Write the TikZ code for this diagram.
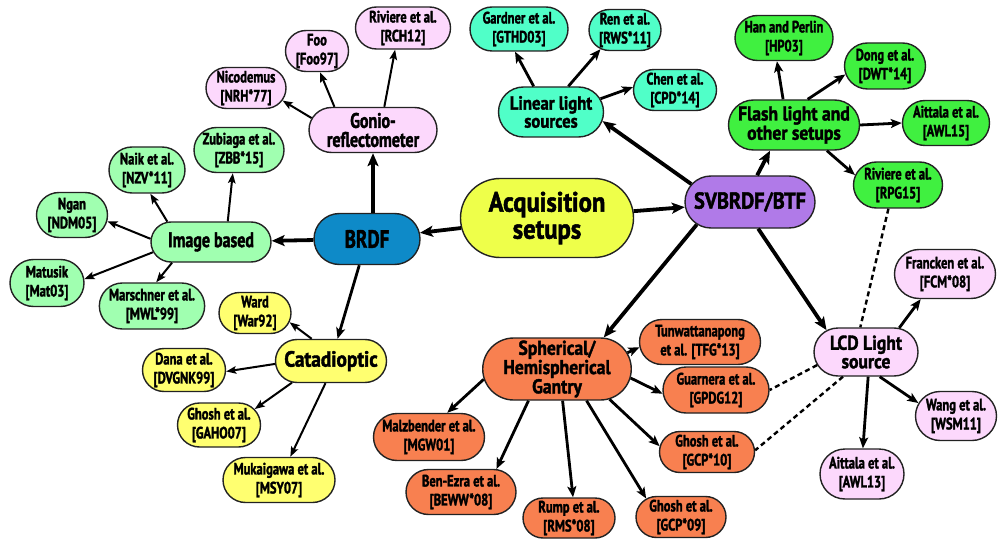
\documentclass[tikz,border=0pt]{standalone}
\usepackage{fontspec}
\setmainfont{PT Sans}[FakeStretch=0.76, BoldFeatures={FakeBold=1.8}]
\newfontfamily\widefont{PT Sans}[FakeStretch=0.88, BoldFeatures={FakeBold=1.8}]
\usetikzlibrary{shapes.misc,arrows.meta}

\definecolor{cAcq}{HTML}{EEFF4A}
\definecolor{cBlue}{HTML}{0E8AC8}
\definecolor{cPurple}{HTML}{B07AE8}
\definecolor{cPink}{HTML}{FCD8FC}
\definecolor{cLGreen}{HTML}{A0FFB0}
\definecolor{cYellow}{HTML}{FFFF70}
\definecolor{cAqua}{HTML}{50FFC8}
\definecolor{cGreen}{HTML}{40F040}
\definecolor{cOrange}{HTML}{F88050}
\definecolor{cEdge}{HTML}{222222}

\tikzset{
  box/.style={rounded rectangle, draw=cEdge, line width=1.4pt, align=center,
    inner xsep=2pt, inner ysep=0pt, text=black},
  sz/.style 2 args={minimum width=#1, minimum height=#2},
  leaf/.style={box, font=\bfseries\fontsize{16.5}{19}\selectfont},
  mid/.style={box, font=\widefont\bfseries\fontsize{20}{18}\selectfont},
  thick arrow/.style={line width=3.8pt, -{Stealth[length=13pt,width=11pt,inset=3pt]}},
  med arrow/.style={line width=2.8pt, -{Stealth[length=11pt,width=9pt,inset=2.5pt]}},
  thin arrow/.style={line width=2pt, -{Stealth[length=10pt,width=7.5pt,inset=2pt]}},
  dash link/.style={line width=2.4pt, dash pattern=on 5pt off 3.5pt},
}

\begin{document}
\begin{tikzpicture}[x=1pt,y=-1pt]
\useasboundingbox (0,0) rectangle (998,540);

% ---- hubs ----
\node[box, fill=cAcq, sz={177pt}{79pt}, font=\widefont\bfseries\fontsize{28}{27}\selectfont]
  (acq) at (547,218) {Acquisition\\setups};
\node[box, fill=cBlue, sz={110pt}{51pt}, font=\bfseries\fontsize{25}{22}\selectfont]
  (brdf) at (367,239) {BRDF};
\node[mid, fill=cPurple, sz={134pt}{52pt}, font=\widefont\bfseries\fontsize{23}{22}\selectfont]
  (sv) at (750,202) {SVBRDF/BTF};

% ---- BRDF branches ----
\node[box, fill=cPink, sz={132pt}{45pt}, font=\bfseries\fontsize{21}{19}\selectfont]
  (gonio) at (373,130) {Gonio-\\reflectometer};
\node[box, fill=cLGreen, sz={124pt}{40pt}, font=\bfseries\fontsize{21}{19}\selectfont]
  (img) at (211,242) {Image based};
\node[mid, fill=cYellow, sz={115pt}{43pt}, font=\widefont\bfseries\fontsize{22}{19}\selectfont]
  (cat) at (331,361) {Catadioptic};

% ---- SVBRDF branches ----
\node[mid, fill=cAqua, sz={109pt}{50pt}, font=\widefont\bfseries\fontsize{19}{18}\selectfont]
  (lin) at (551,112) {Linear light\\sources};
\node[mid, fill=cGreen, sz={135pt}{50pt}] (flash) at (794,125) {Flash light and\\other setups};
\node[mid, fill=cOrange, sz={135pt}{62pt}, font=\widefont\bfseries\fontsize{20}{17}\selectfont]
  (sph) at (557,369) {Spherical/\\Hemispherical\\Gantry};
\node[mid, fill=cPink, sz={108pt}{48pt}, font=\widefont\bfseries\fontsize{20}{18.5}\selectfont]
  (lcd) at (866,352) {LCD Light\\source};

% ---- gonioreflectometer papers ----
\node[leaf, fill=cPink, sz={84pt}{41pt}] (nico) at (246,88) {Nicodemus\\{}[NRH*77]};
\node[leaf, fill=cPink, sz={67pt}{41pt}] (foo) at (317,51) {Foo\\{}[Foo97]};
\node[leaf, fill=cPink, sz={99pt}{42pt}] (rch) at (403,28) {Riviere et al.\\{}[RCH12]};

% ---- image based papers ----
\node[leaf, fill=cLGreen, sz={94pt}{45pt}] (zub) at (239,150) {Zubiaga et al.\\{}[ZBB*15]};
\node[leaf, fill=cLGreen, sz={80pt}{46pt}] (naik) at (147,170) {Naik et al.\\{}[NZV*11]};
\node[leaf, fill=cLGreen, sz={75pt}{45pt}] (ngan) at (72,215) {Ngan\\{}[NDM05]};
\node[leaf, fill=cLGreen, sz={78pt}{47pt}] (mat) at (47,283) {Matusik\\{}[Mat03]};
\node[leaf, fill=cLGreen, sz={104pt}{46pt}] (mar) at (152,306) {Marschner et al.\\{}[MWL*99]};

% ---- catadioptic papers ----
\node[leaf, fill=cYellow, sz={76pt}{41pt}] (ward) at (255,313) {Ward\\{}[War92]};
\node[leaf, fill=cYellow, sz={87pt}{43pt}] (dana) at (184,370) {Dana et al.\\{}[DVGNK99]};
\node[leaf, fill=cYellow, sz={87pt}{44pt}] (gaho) at (219,425) {Ghosh et al.\\{}[GAHO07]};
\node[leaf, fill=cYellow, sz={116pt}{45pt}] (muk) at (279,480) {Mukaigawa et al.\\{}[MSY07]};

% ---- linear light papers ----
\node[leaf, fill=cAqua, sz={102pt}{44pt}] (gard) at (519,29) {Gardner et al.\\{}[GTHD03]};
\node[leaf, fill=cAqua, sz={76pt}{41pt}] (ren) at (625,30) {Ren et al.\\{}[RWS*11]};
\node[leaf, fill=cAqua, sz={87pt}{41pt}] (chen) at (675,90) {Chen et al.\\{}[CPD*14]};

% ---- flash papers ----
\node[leaf, fill=cGreen, sz={102pt}{45pt}] (han) at (784,38) {Han and Perlin\\{}[HP03]};
\node[leaf, fill=cGreen, sz={85pt}{46pt}] (dong) at (885,66) {Dong et al.\\{}[DWT*14]};
\node[leaf, fill=cGreen, sz={91pt}{45pt}] (awlf) at (946,123) {Aittala et al.\\{}[AWL15]};
\node[leaf, fill=cGreen, sz={93pt}{46pt}] (rpg) at (898,185) {Riviere et al.\\{}[RPG15]};

% ---- gantry papers ----
\node[leaf, fill=cOrange, sz={125pt}{45pt}] (tun) at (700,342) {Tunwattanapong\\et al. [TFG*13]};
\node[leaf, fill=cOrange, sz={110pt}{46pt}] (gua) at (716,390) {Guarnera et al.\\{}[GPDG12]};
\node[leaf, fill=cOrange, sz={99pt}{41pt}] (gcpa) at (707,452) {Ghosh et al.\\{}[GCP*10]};
\node[leaf, fill=cOrange, sz={94pt}{41pt}] (gcpb) at (681,517) {Ghosh et al.\\{}[GCP*09]};
\node[leaf, fill=cOrange, sz={96pt}{40pt}] (rump) at (569,518) {Rump et al.\\{}[RMS*08]};
\node[leaf, fill=cOrange, sz={114pt}{45pt}] (ben) at (461,492) {Ben-Ezra et al.\\{}[BEWW*08]};
\node[leaf, fill=cOrange, sz={115pt}{47pt}] (malz) at (429,437) {Malzbender et al.\\{}[MGW01]};

% ---- LCD papers ----
\node[leaf, fill=cPink, sz={105pt}{49pt}] (fran) at (945,274) {Francken et al.\\{}[FCM*08]};
\node[leaf, fill=cPink, sz={85pt}{49pt}] (wang) at (956,416) {Wang et al.\\{}[WSM11]};
\node[leaf, fill=cPink, sz={88pt}{50pt}] (awlc) at (862,474) {Aittala et al.\\{}[AWL13]};

% ---- main connectors ----
\draw[thick arrow] (acq) -- (brdf);
\draw[thick arrow] (acq) -- (sv);
\draw[thick arrow] (brdf.north -| gonio.south) -- (gonio.south);
\draw[thick arrow] (brdf) -- (img);
\draw[med arrow] (brdf) -- (cat);
\draw[thick arrow] (sv.163) -- (lin.-10);
\draw[thick arrow] (sv.75) -- (flash.227);
\draw[thick arrow] (sv.203) -- (sph.34);
\draw[thick arrow] (sv.-73) -- (lcd.151);

% ---- leaf connectors ----
\draw[thin arrow] (gonio.169) -- (nico.-19);
\draw[thin arrow] (gonio.149) -- (foo.-82);
\draw[thin arrow] (gonio.64) -- (rch.-110);

\draw[thin arrow] (img.51) -- (zub.255);
\draw[thin arrow] (img.155) -- (naik.-82);
\draw[thin arrow] (img.177) -- (ngan.-10);
\draw[thin arrow] (img.190) -- (mat.6);
\draw[thin arrow] (img.208) -- (mar.80);

\draw[thin arrow] (cat.131) -- (ward.-15);
\draw[thin arrow] (cat.183) -- (dana.-2);
\draw[thin arrow] (cat.209) -- (gaho.24);
\draw[thin arrow] (cat.256) -- (muk.64);

\draw[med arrow] (lin.124) -- (gard.260);
\draw[med arrow] (lin.56) -- (ren.218);
\draw[med arrow] (lin.15) -- (chen.176);

\draw[med arrow] (flash.113) -- (han.253);
\draw[med arrow] (flash.62) -- (dong.192);
\draw[med arrow] (flash.east) -- (awlf.west);
\draw[med arrow] (flash.-38) -- (rpg.167);

\draw[med arrow] (sph.13) -- (tun.185);
\draw[med arrow] (sph.-7) -- (gua.184);
\draw[med arrow] (sph.-30) -- (gcpa.173);
\draw[med arrow] (sph.-47) -- (gcpb.152);
\draw[med arrow] (sph.-80) -- (rump.79);
\draw[med arrow] (sph.228) -- (ben.33);
\draw[med arrow] (sph.188) -- (malz.53);

\draw[med arrow] (lcd.36) -- (fran.226);
\draw[med arrow] (lcd.-61) -- (wang.161);
\draw[med arrow] (lcd.-85) -- (awlc.88);

% ---- dashed cross links ----
\draw[dash link] (rpg.248) -- (lcd.103);
\draw[dash link] (lcd.195) -- (gua.east);
\draw[dash link] (lcd.227) -- (gcpa.2);
\end{tikzpicture}
\end{document}
